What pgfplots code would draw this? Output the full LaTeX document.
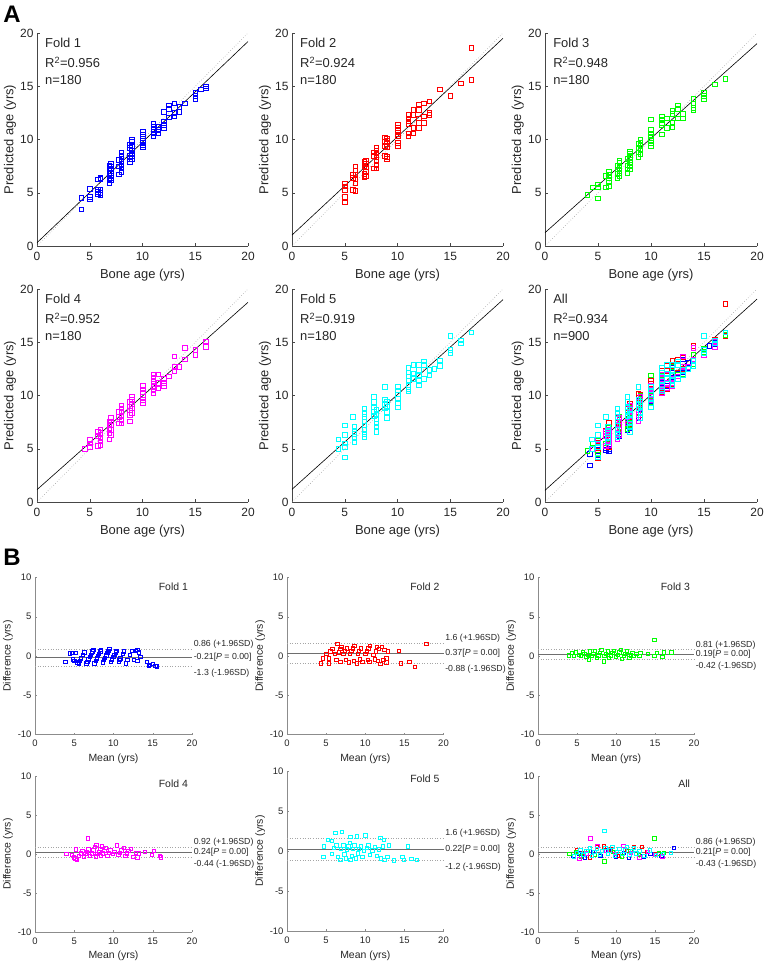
\documentclass[border=0pt]{standalone}
\usepackage{fontspec}
\setmainfont{Liberation Sans}
\usepackage{pgfplots}
\usepackage{pgfplotstable}
\pgfplotsset{compat=1.18}

\definecolor{axA}{RGB}{70,70,70}
\definecolor{axB}{RGB}{140,140,140}
\definecolor{txt}{RGB}{38,38,38}
\definecolor{idline}{RGB}{165,165,165}
\definecolor{meanline}{RGB}{110,110,110}
\definecolor{fblue}{RGB}{0,0,255}
\definecolor{fred}{RGB}{255,0,0}
\definecolor{fgreen}{RGB}{0,255,0}
\definecolor{fmag}{RGB}{255,0,255}
\definecolor{fcyan}{RGB}{0,255,255}

% ---------------- Panel A data: bone age, predicted age ----------------
\pgfplotstableread{
x y
4.2 4.55
4.2 3.45
5 5.4
5 4.6
5 4.4
5.75 6.25
5.75 5.3
5.75 5.1
5.75 4.9
6 6.4
6 6.3
6 5.3
6 5.0
6 4.8
6.83 7.6
6.83 7.2
6.83 6.8
6.83 6.3
6.83 5.9
7 7.75
7 7.5
7 7.2
7 6.9
7 6.6
7 6.4
7 6.2
7.75 6.75
7.75 7.5
7.75 8.1
8 8.8
8 8.5
8 8.2
8 7.9
8 7.6
8 7.3
8 7.0
8.8 9.5
8.8 9.2
8.8 8.5
8.8 8.2
8.8 7.9
9 10.0
9 9.8
9 9.4
9 9.0
9 8.7
9 8.5
9 8.2
10 10.7
10 10.5
10 10.3
10 10.1
10 9.9
10 9.7
10 9.5
10 9.3
11 11.5
11 11.2
11 10.9
11 10.6
11 10.3
11.5 11.2
11.5 10.9
11.5 10.6
12 12.6
12 11.7
12 11.4
12 11.1
12.5 13.2
12.5 12.9
12.5 12.1
13 13.4
13 12.5
13 12.2
13.5 13.1
13.5 12.6
14 13.4
15 14.4
15 14.1
15 13.8
15.5 14.7
16 15.0
16 14.8
}\Aone

\pgfplotstableread{
x y
5 5.9
5 5.6
5 5.3
5 4.6
5 4.1
5.75 6.7
5.75 6.4
5.75 5.3
6 7.5
6 7.1
6 6.7
6 6.3
6 5.9
6 5.2
6.83 7.9
6.83 7.5
6.83 6.8
6.83 6.5
7 8.0
7 7.7
7 7.4
7 7.0
7 6.6
7.75 8.8
7.75 8.5
7.75 7.3
8 9.2
8 9.0
8 8.7
8 8.4
8 8.1
8 7.6
8 7.3
8.8 10.2
8.8 9.8
8.8 9.4
8.8 8.5
9 10.1
9 9.9
9 9.6
9 9.3
9 8.4
9 8.2
10 11.4
10 11.1
10 10.8
10 10.5
10 10.3
10 9.7
10 9.4
11 12.3
11 12.0
11 11.7
11 11.5
11 10.6
11 10.3
11.5 12.8
11.5 12.3
11.5 11.1
11.5 10.6
12 13.3
12 12.8
12 12.0
12 11.6
12 11.1
12.5 13.4
12.5 12.2
12.5 11.6
13 13.6
13 12.5
13 12.3
14 14.7
15 14.1
16 15.3
17 18.6
17 15.6
}\Atwo

\pgfplotstableread{
x y
4 4.8
4.5 5.5
5 5.8
5 5.5
5 4.5
5.75 6.6
5.75 5.5
6 7.0
6 6.7
6 6.4
6 6.1
6 5.6
6.83 7.6
6.83 7.2
6.83 6.8
6.83 6.4
7 8.0
7 7.8
7 7.5
7 7.2
7 6.9
7 6.6
7.75 8.2
7.75 7.6
7.75 7.2
7.75 6.9
8 8.9
8 8.7
8 8.4
8 8.1
8 7.8
8 7.5
8 7.2
8.8 9.6
8.8 9.2
8.8 8.8
8.8 8.4
9 10.0
9 9.7
9 9.4
9 9.1
9 8.6
10 11.9
10 10.9
10 10.6
10 10.3
10 10.0
10 9.7
10 9.4
11 12.2
11 11.9
11 11.6
11 11.4
11 10.5
11.5 12.0
11.5 11.1
12 12.7
12 12.4
12 11.6
12 11.2
12.5 13.2
12.5 12.9
12.5 12.0
13 12.4
13 12.0
14 13.8
14 13.4
14 13.0
14 12.8
15 14.4
15 14.1
15 13.8
16 15.2
17 15.7
}\Athree

\pgfplotstableread{
x y
4.5 5.0
5 5.85
5 5.5
5 5.2
5.75 6.6
5.75 6.2
5.75 5.3
6 6.8
6 6.5
6 6.0
6 5.7
6 5.4
6.83 7.6
6.83 7.3
6.83 6.9
6.83 6.5
6.83 5.9
7 7.9
7 7.6
7 7.2
7 6.8
7 6.3
7.75 8.5
7.75 8.0
7.75 7.4
8 9.1
8 8.8
8 8.5
8 8.1
8 7.7
8 7.4
8.8 9.4
8.8 9.0
8.8 8.6
8.8 8.2
8.8 7.6
9 9.9
9 9.6
9 9.2
9 8.8
9 8.4
10 10.9
10 10.6
10 10.3
10 9.9
10 9.6
10 9.3
11 12.0
11 11.7
11 11.4
11 11.1
11 10.8
11 10.5
11 10.2
11.5 12.0
11.5 11.2
11.5 10.7
12 11.6
12 11.2
12 10.9
12.5 11.8
13 13.7
13 12.7
13 12.3
13.5 12.7
14 14.5
14 13.4
15 14.3
15 13.8
16 15.1
16 14.6
}\Afour

\pgfplotstableread{
x y
4.4 5.9
4.4 5.0
5 7.2
5 6.3
5 5.5
5 5.2
5 4.2
5.75 8.0
5.9 7.1
5.9 6.6
5.9 6.4
5.9 6.1
5.9 5.6
6.83 8.8
6.83 8.3
6.83 8.0
6.83 7.6
6.83 7.2
6.83 6.8
6.83 6.4
6.83 6.1
7.75 9.9
7.75 9.4
7.75 8.9
7.75 8.5
7.75 8.1
8 8.7
8 8.2
8 7.8
8 7.4
8 7.1
8 6.6
8.8 10.8
8.8 9.6
8.8 9.2
8.8 8.8
9 9.4
9 9.0
9 8.5
9 7.9
10 10.8
10 10.5
10 10.1
10 9.7
10 9.3
10 8.9
11 12.6
11 12.2
11 11.8
11 11.4
11 11.0
11 10.6
11 10.4
11.5 12.9
11.5 12.1
11.5 11.6
12 12.9
12 12.4
12 11.9
12 11.4
12 11.0
12.5 13.2
12.5 12.9
12.5 11.6
13 12.4
13 11.9
13.5 12.5
14 13.3
14 12.8
15 15.6
15 14.3
15 14.0
16 15.2
16 14.9
17 15.95
}\Afive

% ---------------- Panel B data: mean, difference ----------------
\pgfplotstableread{
m d
3.85 -0.70
4.40 0.35
4.80 -0.40
5.00 -0.60
5.20 0.40
4.70 0.40
5.40 -0.80
5.55 -0.90
5.70 -0.60
5.85 -0.30
6.10 0.20
6.25 0.50
6.55 -0.90
6.65 -0.70
6.80 -0.40
6.95 -0.10
7.10 0.20
7.20 0.40
7.30 0.60
7.40 0.80
7.55 -0.90
7.70 -0.60
7.85 -0.30
8.00 0.00
8.15 0.30
8.30 0.60
8.40 0.80
8.60 -0.80
8.75 -0.50
8.90 -0.20
9.05 0.10
9.20 0.40
9.35 0.70
9.45 0.90
9.65 -0.70
9.80 -0.40
9.95 -0.10
10.10 0.20
10.25 0.50
10.35 0.70
10.65 -0.70
10.75 -0.50
10.85 -0.30
11.15 0.30
11.30 0.60
11.55 -0.90
11.75 -0.50
12.10 0.20
12.35 0.70
12.60 -0.50
12.85 0.70
13.00 0.80
13.20 0.50
13.40 -0.10
13.00 -0.60
14.20 -0.70
14.45 -1.25
14.60 -1.10
15.00 -1.00
15.30 -1.20
15.50 -1.30
}\Bone

\pgfplotstableread{
m d
4.30 -0.90
4.60 -0.30
5.00 0.30
5.30 -0.30
5.30 -0.90
5.50 0.60
5.80 0.90
6.10 0.30
6.40 1.60
6.30 -0.50
6.60 0.50
6.80 0.90
6.95 1.20
6.80 -0.70
7.20 0.30
7.40 0.70
7.60 1.00
7.50 -0.50
7.85 -0.80
8.00 0.30
8.20 0.70
8.40 1.00
8.60 1.30
8.50 -0.60
8.90 -0.90
9.00 0.30
9.20 0.70
9.40 1.00
9.30 -0.40
9.60 -0.70
10.00 0.30
10.20 0.60
10.40 1.00
10.60 1.30
10.30 -0.50
10.50 -0.70
11.00 0.20
11.30 0.60
11.50 1.20
11.70 0.90
11.20 -0.40
11.60 -0.60
11.90 -1.00
12.10 1.20
12.40 0.80
12.30 -0.50
12.70 -0.80
12.90 0.60
12.70 -0.30
14.30 0.70
14.50 -0.90
15.60 -0.70
16.30 -1.40
17.80 1.60
}\Btwo

\pgfplotstableread{
m d
3.90 0.10
4.30 0.40
4.60 0.00
4.80 0.50
5.20 0.20
5.50 0.00
5.70 0.50
5.90 0.30
6.20 -0.10
6.40 0.20
6.50 -0.40
6.60 0.60
6.90 0.00
7.10 0.30
7.30 0.70
7.50 -0.20
7.70 0.10
7.90 0.40
8.10 0.80
8.40 -0.65
8.50 0.00
8.70 0.30
8.90 0.60
9.10 -0.20
9.30 0.10
9.50 0.40
9.70 0.70
10.00 -0.10
10.20 0.20
10.40 0.50
10.60 0.80
10.70 -0.35
11.00 0.00
11.20 0.30
11.40 0.60
11.70 -0.20
11.90 0.10
12.10 0.40
12.20 0.00
12.60 0.30
13.10 0.40
13.00 0.00
14.10 0.30
14.90 2.10
14.90 0.00
15.20 0.40
15.90 -0.10
16.10 0.50
17.10 0.50
}\Bthree

\pgfplotstableread{
m d
4.00 0.00
4.70 -0.10
4.90 -0.40
5.10 -0.55
5.20 0.60
5.30 -0.70
5.60 -0.20
5.80 0.10
6.00 0.40
6.20 -0.30
6.40 0.00
6.70 2.00
6.60 0.30
6.80 0.60
7.00 -0.20
7.20 0.10
7.40 0.50
7.60 0.90
7.80 1.20
7.70 -0.30
7.90 0.00
8.10 0.30
8.30 0.70
8.50 1.00
8.40 -0.20
8.60 0.10
8.80 0.40
9.00 0.80
9.20 -0.20
9.40 0.20
9.60 0.50
9.90 0.00
10.10 0.30
10.40 1.15
10.60 -0.10
10.80 0.20
11.00 0.50
11.30 0.80
11.50 -0.20
11.70 0.10
11.90 0.40
12.20 0.70
12.50 -0.35
12.80 0.20
13.00 -0.40
13.20 0.10
14.00 0.30
14.90 -0.10
15.10 0.40
15.90 -0.25
16.00 -0.40
}\Bfour

\pgfplotstableread{
m d
4.65 -0.75
4.70 0.60
5.20 1.40
5.70 1.30
5.70 -0.35
6.15 2.25
7.00 2.40
8.10 1.80
8.90 1.85
10.00 1.95
11.90 1.65
12.35 1.40
13.00 0.70
6.00 0.40
6.30 0.70
6.50 -0.70
6.80 -1.10
6.90 0.30
7.20 0.70
7.30 -0.40
7.50 -0.90
7.60 0.20
7.80 0.60
8.00 1.00
8.10 -1.10
8.30 -0.60
8.40 0.30
8.60 0.70
8.80 -0.90
9.00 -0.30
9.20 0.30
9.40 0.60
9.60 -0.70
9.80 0.00
10.20 0.40
10.40 0.70
10.60 -0.50
10.90 0.10
11.20 0.50
11.50 -0.60
11.70 0.20
12.00 -0.90
12.20 0.60
12.40 -1.10
12.80 -0.75
13.60 -1.15
14.70 -0.75
14.90 -1.10
15.40 0.60
15.85 -0.95
16.60 -1.10
}\Bfive

\pgfplotstableread{
m d
4.5 -0.2
5.2 0.1
6.0 -0.4
7.0 0.3
8.0 -0.2
9.0 0.5
10.0 -0.3
11.0 0.2
11.6 -0.5
12.5 0.1
13.5 -0.3
14.4 0.0
15.8 -0.2
17.4 0.8
}\Ballblue

\pgfplotstableread{
m d
5.0 0.5
5.8 0.2
6.6 -0.4
7.5 0.9
8.4 1.0
9.3 0.6
10.2 -0.2
11.4 0.4
12.3 0.9
13.3 0.9
14.0 0.3
15.1 0.0
}\Ballred

\pgfplotstableread{
m d
4.0 0.0
4.8 0.3
5.5 -0.3
6.4 0.4
7.3 -0.1
8.5 -0.9
9.6 0.3
10.7 -0.3
11.8 0.4
12.9 -0.1
14.9 2.0
15.5 0.1
16.1 0.2
}\Ballgreen

\pgfplotstableread{
m d
5.3 -0.6
6.2 0.1
6.7 2.0
7.6 1.1
8.7 0.4
9.8 0.0
10.9 1.1
11.9 0.2
13.0 -0.4
14.1 0.3
15.0 -0.1
15.9 -0.3
}\Ballmag

\pgfplotstableread{
m d
4.6 -0.3
5.0 0.2
5.4 0.5
5.8 -0.1
6.2 0.4
6.6 0.8
6.9 -0.2
7.2 0.3
7.5 0.7
7.9 -0.1
8.2 0.4
8.5 3.0
8.6 0.8
8.9 0.0
9.2 0.5
9.5 0.9
9.8 -0.2
10.1 0.3
10.4 0.7
10.8 0.0
11.1 0.5
11.4 0.9
11.7 -0.1
12.0 0.4
12.3 0.8
12.6 0.1
13.0 0.4
13.6 -0.2
14.3 0.5
15.1 -0.1
16.0 0.0
17.0 0.2
}\Ballcyan

\pgfplotsset{
  common/.style={
    scale only axis, xmin=0, xmax=20,
    axis lines=left, axis line style={-, line width=0.6bp},
    tick align=inside, xtick={0,5,10,15,20},
    /pgf/number format/assume math mode=true,
    clip=false, enlargelimits=false,
  },
  Apanel/.style={
    common, width=211bp, height=213bp, ymin=0, ymax=20, ytick={0,5,10,15,20},
    axis line style={draw=axA}, tick style={draw=axA, line width=0.5bp},
    major tick length=3bp,
    tick label style={font=\fontsize{12}{14}\selectfont, text=txt},
    xticklabel style={yshift=-3bp},
    label style={font=\fontsize{13}{15}\selectfont, text=txt},
    xlabel={Bone age (yrs)}, ylabel={Predicted age (yrs)},
    xlabel style={at={(axis description cs:0.5,-0.136)}, anchor=center},
    ylabel style={at={(axis description cs:-0.128,0.5)}, anchor=center},
  },
  Bpanel/.style={
    common, ymin=-10, ymax=10, ytick={-10,-5,0,5,10},
    axis line style={draw=axB}, tick style={draw=axB, line width=0.5bp},
    major tick length=2bp,
    tick label style={font=\fontsize{9.5}{11}\selectfont, text=txt},
    xticklabel style={yshift=-2bp},
    label style={font=\fontsize{10.5}{12}\selectfont, text=txt},
    xlabel={Mean (yrs)}, ylabel={Difference (yrs)},
    xlabel style={at={(axis description cs:0.5,-0.153)}, anchor=center},
    ylabel style={at={(axis description cs:-0.172,0.5)}, anchor=center},
  },
  Am/.style={only marks, mark=square, mark size=2.3bp, mark options={line width=0.5bp}, #1},
  Bm/.style={only marks, mark=square, mark size=1.7bp, mark options={line width=0.45bp}, #1},
  fit/.style={black, line width=0.6bp},
  ident/.style={idline, dotted, line width=0.6bp},
}
\tikzset{
  Atxt/.style={anchor=west, inner sep=0pt, font=\fontsize{13}{15}\selectfont, text=txt},
  Bann/.style={inner sep=0pt, font=\fontsize{8.8}{10}\selectfont, text=txt},
  Btitle/.style={anchor=east, inner sep=0pt, font=\fontsize{10.5}{12}\selectfont, text=txt},
}

\newcommand{\Atext}[3]{%
  \node[Atxt] at (rel axis cs:0.038,0.953) {#1};
  \node[Atxt] at (rel axis cs:0.038,0.862) {R\textsuperscript{2}=#2};
  \node[Atxt] at (rel axis cs:0.038,0.780) {n=#3};
}
\newcommand{\Blines}[4]{%
  \addplot[idline, dotted, line width=0.6bp] coordinates {(0,#1) (20,#1)};
  \addplot[meanline, line width=0.7bp] coordinates {(0,#2) (20,#2)};
  \addplot[idline, dotted, line width=0.6bp] coordinates {(0,#3) (20,#3)};
  \node[Bann, anchor=base west] at (axis cs:20.2,#1) {\raisebox{2.5bp}{#1 (+1.96SD)}};
  \node[Bann, anchor=west] at (axis cs:20.2,#2) {#4[\textit{P} = 0.00]};
  \node[Bann, anchor=base west] at (axis cs:20.2,#3) {\raisebox{-9bp}{#3 (-1.96SD)}};
}

\begin{document}
\begin{tikzpicture}[x=1bp,y=1bp]
\useasboundingbox (0,0) rectangle (765,-965);

\node[font=\bfseries\fontsize{24}{24}\selectfont, text=black] at (12,-14) {A};
\node[font=\bfseries\fontsize{24}{24}\selectfont, text=black] at (12,-557) {B};

% ---------- A row 1 ----------
\begin{axis}[Apanel, at={(37bp,-246bp)}, anchor=south west]
  \addplot[Am=fblue] table[x=x,y=y] {\Aone};
  \addplot[ident] coordinates {(0,0) (20,20)};
  \addplot[fit] coordinates {(0,0.31) (20,19.2)};
  \Atext{Fold 1}{0.956}{180}
\end{axis}

\begin{axis}[Apanel, at={(292bp,-246bp)}, anchor=south west]
  \addplot[Am=fred] table[x=x,y=y] {\Atwo};
  \addplot[ident] coordinates {(0,0) (20,20)};
  \addplot[fit] coordinates {(0,1.03) (20,19.5)};
  \Atext{Fold 2}{0.924}{180}
\end{axis}

\begin{axis}[Apanel, at={(545bp,-246bp)}, anchor=south west, width=212bp]
  \addplot[Am=fgreen] table[x=x,y=y] {\Athree};
  \addplot[ident] coordinates {(0,0) (20,20)};
  \addplot[fit] coordinates {(0,1.25) (20,19.0)};
  \Atext{Fold 3}{0.948}{180}
\end{axis}

% ---------- A row 2 ----------
\begin{axis}[Apanel, at={(37bp,-502bp)}, anchor=south west]
  \addplot[Am=fmag] table[x=x,y=y] {\Afour};
  \addplot[ident] coordinates {(0,0) (20,20)};
  \addplot[fit] coordinates {(0,1.16) (20,18.75)};
  \Atext{Fold 4}{0.952}{180}
\end{axis}

\begin{axis}[Apanel, at={(292bp,-502bp)}, anchor=south west]
  \addplot[Am=fcyan] table[x=x,y=y] {\Afive};
  \addplot[ident] coordinates {(0,0) (20,20)};
  \addplot[fit] coordinates {(0,1.19) (20,19.0)};
  \Atext{Fold 5}{0.919}{180}
\end{axis}

\begin{axis}[Apanel, at={(545bp,-502bp)}, anchor=south west, width=212bp]
  \addplot[Am=fblue] table[x=x,y=y] {\Aone};
  \addplot[Am=fred] table[x=x,y=y] {\Atwo};
  \addplot[Am=fgreen] table[x=x,y=y] {\Athree};
  \addplot[Am=fmag] table[x=x,y=y] {\Afour};
  \addplot[Am=fcyan] table[x=x,y=y] {\Afive};
  \addplot[ident] coordinates {(0,0) (20,20)};
  \addplot[fit] coordinates {(0,1.1) (20,19.05)};
  \Atext{All}{0.934}{900}
\end{axis}

% ---------- B row 1 ----------
\begin{axis}[Bpanel, at={(35bp,-734.5bp)}, anchor=south west, width=157bp, height=157bp]
  \addplot[Bm=fblue] table[x=m,y=d] {\Bone};
  \Blines{0.86}{-0.21}{-1.3}{-0.21}
  \node[Btitle] at (axis cs:19.5,8.8) {Fold 1};
\end{axis}

\begin{axis}[Bpanel, at={(287bp,-734.5bp)}, anchor=south west, width=156.5bp, height=157bp]
  \addplot[Bm=fred] table[x=m,y=d] {\Btwo};
  \Blines{1.6}{0.37}{-0.88}{0.37}
  \node[Btitle] at (axis cs:19.5,8.8) {Fold 2};
\end{axis}

\begin{axis}[Bpanel, at={(538bp,-734.5bp)}, anchor=south west, width=156bp, height=157bp]
  \addplot[Bm=fgreen] table[x=m,y=d] {\Bthree};
  \Blines{0.81}{0.19}{-0.42}{0.19}
  \node[Btitle] at (axis cs:19.5,8.8) {Fold 3};
\end{axis}

% ---------- B row 2 ----------
\begin{axis}[Bpanel, at={(35bp,-932bp)}, anchor=south west, width=157bp, height=156bp]
  \addplot[Bm=fmag] table[x=m,y=d] {\Bfour};
  \Blines{0.92}{0.24}{-0.44}{0.24}
  \node[Btitle] at (axis cs:19.5,9.0) {Fold 4};
\end{axis}

\begin{axis}[Bpanel, at={(287bp,-931bp)}, anchor=south west, width=156.5bp, height=160bp]
  \addplot[Bm=fcyan] table[x=m,y=d] {\Bfive};
  \Blines{1.6}{0.22}{-1.2}{0.22}
  \node[Btitle] at (axis cs:19.5,9.0) {Fold 5};
\end{axis}

\begin{axis}[Bpanel, at={(538bp,-932bp)}, anchor=south west, width=156bp, height=156bp]
  \addplot[Bm=fblue] table[x=m,y=d] {\Ballblue};
  \addplot[Bm=fred] table[x=m,y=d] {\Ballred};
  \addplot[Bm=fgreen] table[x=m,y=d] {\Ballgreen};
  \addplot[Bm=fmag] table[x=m,y=d] {\Ballmag};
  \addplot[Bm=fcyan] table[x=m,y=d] {\Ballcyan};
  \Blines{0.86}{0.21}{-0.43}{0.21}
  \node[Btitle] at (axis cs:19.5,9.0) {All};
\end{axis}
\end{tikzpicture}
\end{document}
